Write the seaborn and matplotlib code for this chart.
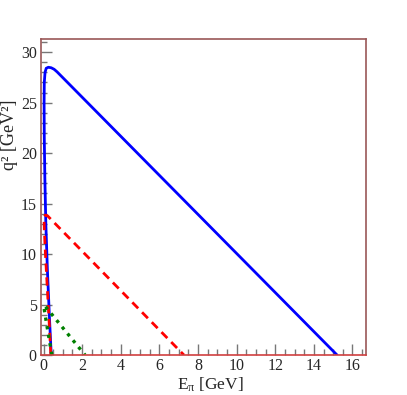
import numpy as np
import pandas as pd
import matplotlib
matplotlib.use('Agg')
import matplotlib.pyplot as plt
import seaborn as sns

# kinematic boundaries: E_pi [GeV], q^2 [GeV^2]
blue_e = [0.40, 0.30, 0.20, 0.12, 0.07, 0.04, 0.03, 0.04, 0.08, 0.14, 0.25, 0.40, 0.55, 0.70, 15.2]
blue_q2 = [0.0, 4.0, 8.5, 13.0, 17.5, 21.5, 25.0, 27.0, 28.0, 28.4, 28.5, 28.45, 28.3, 28.05, 0.0]

red_e = [0.38, 0.30, 0.20, 0.10, 0.04, 0.03, 0.05, 0.09, 0.20, 7.27]
red_q2 = [0.0, 3.0, 6.5, 10.0, 12.5, 13.3, 13.7, 13.86, 13.8, 0.0]

green_e = [0.43, 0.30, 0.15, 0.05, 0.02, 0.05, 0.12, 2.15]
green_q2 = [0.0, 1.5, 3.2, 4.4, 4.85, 4.9, 4.75, 0.0]

sns.set_style("white")
plt.rcParams['font.family'] = ['Liberation Serif', 'DejaVu Serif']
plt.rcParams['mathtext.fontset'] = 'custom'
plt.rcParams['mathtext.rm'] = 'Liberation Serif'
plt.rcParams['mathtext.it'] = 'Liberation Serif'

fig = plt.figure(figsize=(4.07, 3.95), dpi=100)
ax = fig.add_axes([41 / 407, 1 - 355 / 395, 325 / 407, 316 / 395])

curves = [
    (blue_e, blue_q2, 'blue', '-', 2.0),
    (red_e, red_q2, 'red', (0, (3, 2)), 2.0),
    (green_e, green_q2, 'green', (0, (1, 1.6)), 2.4),
]
for xs, ys, col, ls, lw in curves:
    df = pd.DataFrame({'E': xs, 'q2': ys})
    sns.lineplot(data=df, x='E', y='q2', sort=False, estimator=None,
                 color=col, linestyle=ls, linewidth=lw, ax=ax)

ax.set_xlim(-0.13, 16.7)
ax.set_ylim(0, 31.3)
ax.set_xticks(np.arange(0, 17, 2))
ax.set_yticks(np.arange(0, 31, 5))
ax.set_xticks(np.arange(0, 16.8, 0.5), minor=True)
ax.set_yticks(np.arange(0, 31.3, 1), minor=True)
ax.tick_params(which='both', direction='in', color='#777777', labelsize=11.5,
               left=True, bottom=True, top=False, right=False)
ax.tick_params(which='major', length=8, width=1)
ax.tick_params(which='minor', length=4, width=1)
ax.tick_params(axis='x', pad=2)
ax.tick_params(axis='y', pad=3)

for s in ['left', 'top', 'right']:
    ax.spines[s].set_color('#9a5858')
    ax.spines[s].set_linewidth(1.2)
ax.spines['bottom'].set_color('#d04040')
ax.spines['bottom'].set_linewidth(1.2)

ax.set_xlabel('')
ax.set_ylabel('')
fig.text(210 / 407, 1 - 394 / 395, r'E$_{\pi}$ [GeV]', fontsize=12.5,
         ha='center', va='bottom')
fig.text(10 / 407, 1 - 135 / 395, 'q² [GeV²]', fontsize=13, rotation=90,
         ha='center', va='center')

fig.savefig('out.png', dpi=100)
